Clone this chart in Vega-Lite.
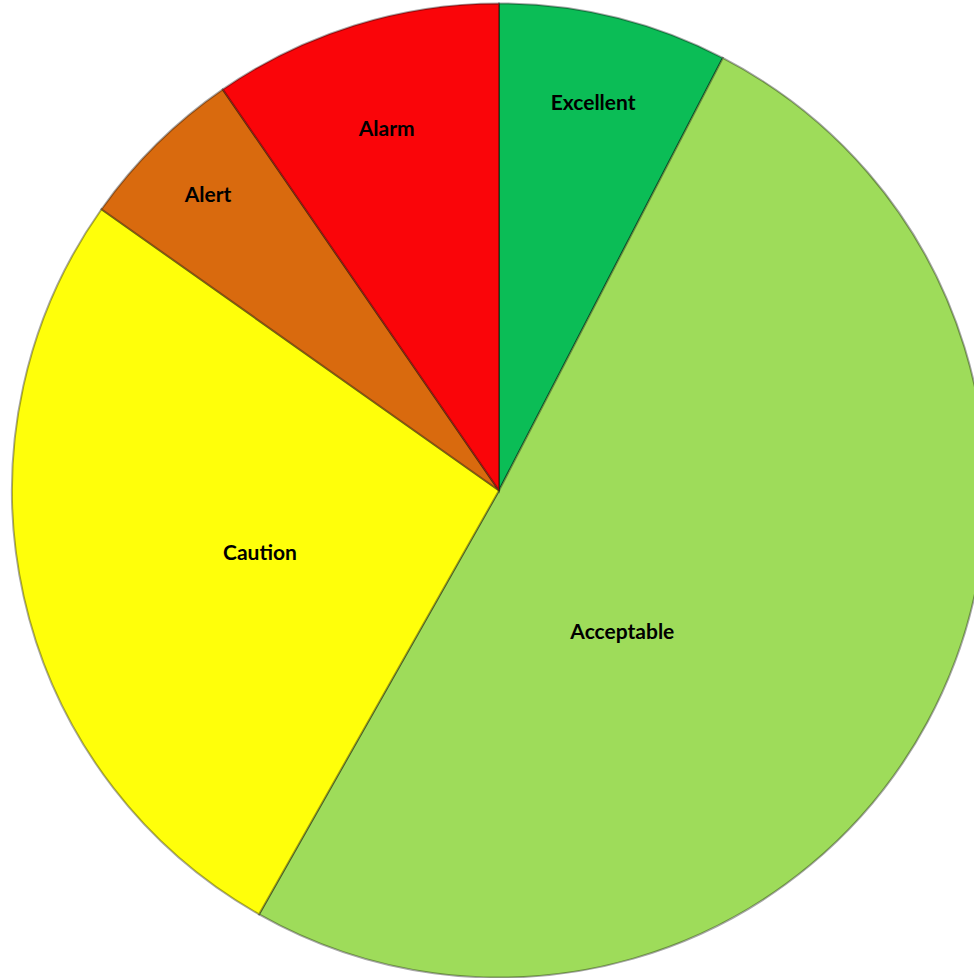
{
  "$schema": "https://vega.github.io/schema/vega-lite/v6.json",
  "width": 974,
  "height": 978,
  "autosize": {"type": "fit", "contains": "padding"},
  "padding": {"left": 24, "right": 0, "top": 3, "bottom": 0},
  "background": "white",
  "view": {"stroke": null},
  "data": {
    "values": [
      {"category": "Excellent", "value": 7.6, "idx": 1},
      {"category": "Acceptable", "value": 50.6, "idx": 2},
      {"category": "Caution", "value": 26.6, "idx": 3},
      {"category": "Alert", "value": 5.6, "idx": 4},
      {"category": "Alarm", "value": 9.6, "idx": 5}
    ]
  },
  "transform": [
    {"stack": "value", "sort": [{"field": "idx", "order": "ascending"}], "groupby": [], "as": ["v0", "v1"]},
    {"calculate": "(datum.v0 + datum.v1) / 2", "as": "mid"}
  ],
  "layer": [
    {
      "mark": {"type": "arc", "outerRadius": 487, "stroke": "#000000", "strokeOpacity": 0.35, "strokeWidth": 2},
      "encoding": {
        "theta": {"field": "v0", "type": "quantitative", "scale": {"domain": [0, 100], "zero": true}},
        "theta2": {"field": "v1"},
        "color": {
          "field": "category",
          "type": "nominal",
          "scale": {
            "domain": ["Excellent", "Acceptable", "Caution", "Alert", "Alarm"],
            "range": ["#0BBD56", "#9EDC5A", "#FFFF0A", "#D96A0E", "#FA0509"]
          },
          "legend": null
        }
      }
    },
    {
      "transform": [{"filter": "datum.category === 'Excellent'"}],
      "mark": {"type": "text", "radius": 398, "font": "Lato", "fontWeight": "bold", "fontSize": 21, "color": "#000000"},
      "encoding": {
        "theta": {"field": "mid", "type": "quantitative", "scale": {"domain": [0, 100], "zero": true}},
        "text": {"field": "category"}
      }
    },
    {
      "transform": [{"filter": "datum.category === 'Alarm'"}],
      "mark": {"type": "text", "radius": 378, "font": "Lato", "fontWeight": "bold", "fontSize": 21, "color": "#000000"},
      "encoding": {
        "theta": {"field": "mid", "type": "quantitative", "scale": {"domain": [0, 100], "zero": true}},
        "text": {"field": "category"}
      }
    },
    {
      "transform": [{"filter": "datum.category === 'Alert'"}],
      "mark": {"type": "text", "radius": 414, "font": "Lato", "fontWeight": "bold", "fontSize": 21, "color": "#000000"},
      "encoding": {
        "theta": {"field": "mid", "type": "quantitative", "scale": {"domain": [0, 100], "zero": true}},
        "text": {"field": "category"}
      }
    },
    {
      "transform": [{"filter": "datum.category === 'Caution'"}],
      "mark": {"type": "text", "radius": 245, "dy": 10, "font": "Lato", "fontWeight": "bold", "fontSize": 21, "color": "#000000"},
      "encoding": {
        "theta": {"field": "mid", "type": "quantitative", "scale": {"domain": [0, 100], "zero": true}},
        "text": {"field": "category"}
      }
    },
    {
      "transform": [{"filter": "datum.category === 'Acceptable'"}],
      "mark": {"type": "text", "radius": 188, "dx": -42, "dy": 53, "font": "Lato", "fontWeight": "bold", "fontSize": 21, "color": "#000000"},
      "encoding": {
        "theta": {"field": "mid", "type": "quantitative", "scale": {"domain": [0, 100], "zero": true}},
        "text": {"field": "category"}
      }
    }
  ]
}
